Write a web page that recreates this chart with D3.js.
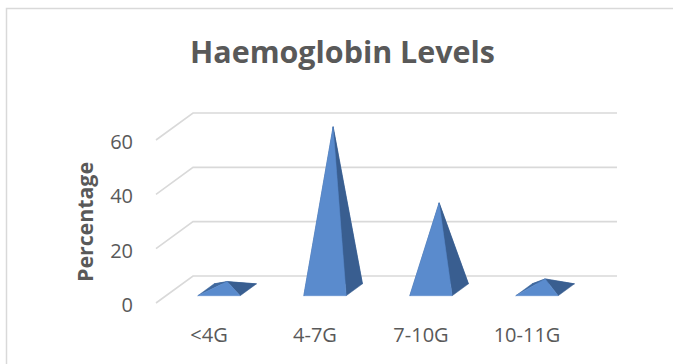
<!DOCTYPE html>
<html>
<head>
<meta charset="utf-8">
<script src="https://cdn.jsdelivr.net/npm/d3@7"></script>
<style>
  html, body { margin: 0; padding: 0; background: #fff; }
  svg { display: block; }
</style>
</head>
<body>
<div id="chart"></div>
<script>
const categories = ["<4G", "4-7G", "7-10G", "10-11G"];
const values = [3, 60, 32, 4];
const ticks = [0, 20, 40, 60];

const width = 673, height = 364;
const textColor = "#595959";
const gridColor = "#d9d9d9";
// oblique depth vector for the 3d look (full floor depth)
const DX = 37, DY = -27;

const svg = d3.select("#chart").append("svg")
    .attr("width", width)
    .attr("height", height)
    .attr("font-family", "'Open Sans', sans-serif");

svg.append("rect").attr("width", width).attr("height", height).attr("fill", "#fff");

// chart area border
svg.append("rect")
    .attr("x", 6.5).attr("y", 8.5)
    .attr("width", 720).attr("height", 420)
    .attr("fill", "none")
    .attr("stroke", gridColor)
    .attr("stroke-width", 1.5);

const x = d3.scaleBand().domain(categories).range([156, 580]);
const y = d3.scaleLinear().domain([0, 60]).range([303, 140]);

const proj = (px, v, d) => [px + d * DX, y(v) + d * DY];

// gridlines: side wall diagonal + back wall line
const grid = svg.append("g");
ticks.forEach(t => {
  const a = proj(x.range()[0], t, 0);
  const b = proj(x.range()[0], t, 1);
  const c = proj(x.range()[1], t, 1);
  grid.append("path")
      .attr("d", d3.line()([a, b, c]))
      .attr("fill", "none")
      .attr("stroke", gridColor)
      .attr("stroke-width", 1.6);
});

// value axis labels
svg.append("g")
    .attr("fill", textColor)
    .attr("font-size", 20)
    .attr("text-anchor", "end")
  .selectAll("text")
  .data(ticks)
  .join("text")
    .attr("x", 133)
    .attr("y", d => y(d) + 2)
    .attr("dy", "0.35em")
    .text(d => d);

// category labels
svg.append("g")
    .attr("fill", textColor)
    .attr("font-size", 20)
    .attr("text-anchor", "middle")
  .selectAll("text")
  .data(categories)
  .join("text")
    .attr("x", d => x(d) + x.bandwidth() / 2)
    .attr("y", 342)
    .text(d => d);

// pyramids
const d0 = 0.27, d1 = 0.71, dm = (d0 + d1) / 2;
const faceColors = { back: "#3b6398", left: "#3f689e", right: "#395e90", front: "#5a8bcd" };
const pyr = svg.append("g");
categories.forEach((c, i) => {
  const cx = x(c) + x.bandwidth() / 2;
  const hw = x.bandwidth() * 0.2;
  const FL = proj(cx - hw, 0, d0), FR = proj(cx + hw, 0, d0);
  const BR = proj(cx + hw, 0, d1), BL = proj(cx - hw, 0, d1);
  const A = proj(cx, values[i], dm);
  const faces = [
    ["back", [BL, BR, A]],
    ["left", [FL, BL, A]],
    ["right", [FR, BR, A]],
    ["front", [FL, FR, A]]
  ];
  pyr.append("g").selectAll("path")
    .data(faces)
    .join("path")
      .attr("d", d => d3.line()(d[1]) + "Z")
      .attr("fill", d => faceColors[d[0]])
      .attr("stroke", d => faceColors[d[0]])
      .attr("stroke-width", 0.5)
      .attr("stroke-linejoin", "round");
});

// title
svg.append("text")
    .attr("x", 342.5)
    .attr("y", 63)
    .attr("text-anchor", "middle")
    .attr("font-size", 30)
    .attr("font-weight", "bold")
    .attr("fill", textColor)
    .attr("textLength", 305)
    .attr("lengthAdjust", "spacingAndGlyphs")
    .text("Haemoglobin Levels");

// axis title
svg.append("text")
    .attr("transform", "translate(93,222) rotate(-90)")
    .attr("text-anchor", "middle")
    .attr("font-size", 21)
    .attr("font-weight", "bold")
    .attr("fill", textColor)
    .attr("textLength", 120)
    .attr("lengthAdjust", "spacingAndGlyphs")
    .text("Percentage");
</script>
</body>
</html>
